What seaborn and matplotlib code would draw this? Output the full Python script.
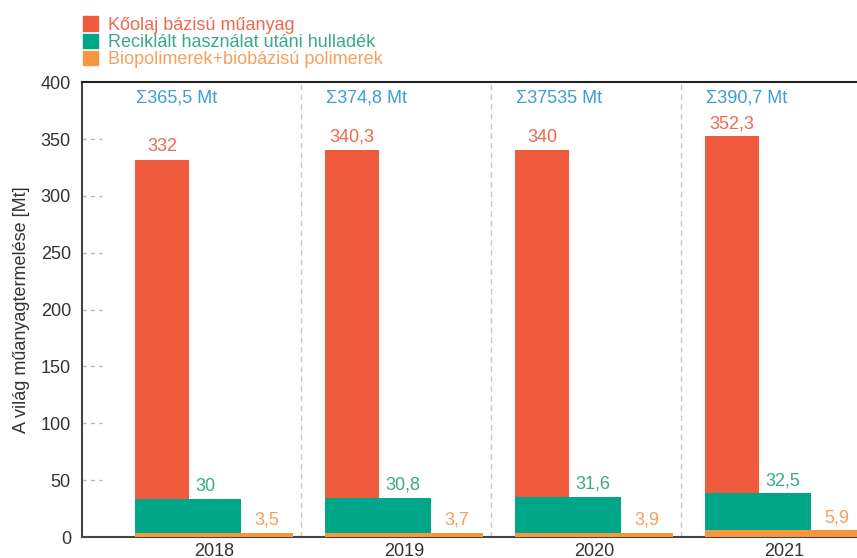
import numpy as np
import seaborn as sns
import matplotlib.pyplot as plt
from matplotlib.patches import Patch

years = ['2018', '2019', '2020', '2021']
koolaj = [332, 340.3, 340, 352.3]
reciklalt = [30, 30.8, 31.6, 32.5]
bio = [3.5, 3.7, 3.9, 5.9]
koolaj_txt = ['332', '340,3', '340', '352,3']
reciklalt_txt = ['30', '30,8', '31,6', '32,5']
bio_txt = ['3,5', '3,7', '3,9', '5,9']
sum_txt = ['Σ365,5 Mt', 'Σ374,8 Mt', 'Σ37535 Mt', 'Σ390,7 Mt']
yticks = [0, 50, 100, 150, 200, 250, 300, 350, 400]

c_red = '#f05b3d'
c_green = '#00a688'
c_orange = '#f7963e'
t_red = '#ec6a50'
t_green = '#3aa88c'
t_orange = '#f5a05c'
t_blue = '#3b9fd0'

sns.set_style('white')
plt.rcParams['font.family'] = ['Liberation Sans', 'DejaVu Sans']

fig = plt.figure(figsize=(8.57, 5.58), dpi=100)
ax = fig.add_axes([0.0957, 0.0376, 1 - 0.0957, 0.815])

x = np.arange(len(years))
left = x - 0.414
w_red, w_green, w_orange = 0.28, 0.554, 0.828
bio_a = np.array(bio)
rec_top = bio_a + np.array(reciklalt)

ax.bar(left, koolaj, width=w_red, align='edge', color=c_red, lw=0, zorder=2)
ax.bar(left, reciklalt, width=w_green, bottom=bio_a, align='edge', color=c_green, lw=0, zorder=3)
ax.bar(left, bio, width=w_orange, align='edge', color=c_orange, lw=0, zorder=4)

fs = 13
for i in range(len(years)):
    ax.annotate(koolaj_txt[i], (left[i] + w_red / 2, koolaj[i]), xytext=(0, 3),
                textcoords='offset points', ha='center', va='bottom',
                fontsize=fs, color=t_red)
    ax.annotate(reciklalt_txt[i], (left[i] + w_red + 0.035, rec_top[i]), xytext=(0, 3),
                textcoords='offset points', ha='left', va='bottom',
                fontsize=fs, color=t_green)
    ax.annotate(bio_txt[i], (left[i] + w_green + 0.07, bio[i]), xytext=(0, 3),
                textcoords='offset points', ha='left', va='bottom',
                fontsize=fs, color=t_orange)
    ax.text(left[i] + 0.005, 386, sum_txt[i], ha='left', va='center',
            fontsize=fs, color=t_blue)

# dashed separators between years
for s in x[:-1] + 0.46:
    ax.axvline(s, color='#c8c8c8', lw=1, ls=(0, (4, 3)), zorder=1)

# short dashed stubs at the y ticks
ax.hlines(yticks[1:-1], 0, 0.026, transform=ax.get_yaxis_transform(),
          color='#bbbbbb', lw=1, ls=(0, (3, 3)))

ax.set_xlim(-0.695, 3.384)
ax.set_ylim(0, 400)
ax.set_yticks(yticks)
ax.set_xticks(x)
ax.set_xticklabels(years)
ax.tick_params(axis='both', length=0, labelsize=fs, labelcolor='#333333')
ax.tick_params(axis='y', pad=8)
ax.tick_params(axis='x', pad=4)
ax.set_ylabel('A világ műanyagtermelése [Mt]', fontsize=fs, color='#333333', labelpad=8)

for side in ['left', 'bottom']:
    ax.spines[side].set_color('#444444')
    ax.spines[side].set_linewidth(1.5)
ax.spines['top'].set_color('#222222')
ax.spines['top'].set_linewidth(1.5)
ax.spines['right'].set_visible(False)

handles = [Patch(color=c_red), Patch(color=c_green), Patch(color=c_orange)]
labels = ['Kőolaj bázisú műanyag', 'Reciklált használat utáni hulladék',
          'Biopolimerek+biobázisú polimerek']
fig.legend(handles, labels, loc='upper left', bbox_to_anchor=(0.08, 0.997),
           frameon=False, fontsize=fs, labelcolor=[t_red, t_green, t_orange],
           handlelength=0.85, handleheight=0.85, handletextpad=0.55,
           labelspacing=0.0, borderpad=0.3)

fig.savefig('out.png', dpi=100)
